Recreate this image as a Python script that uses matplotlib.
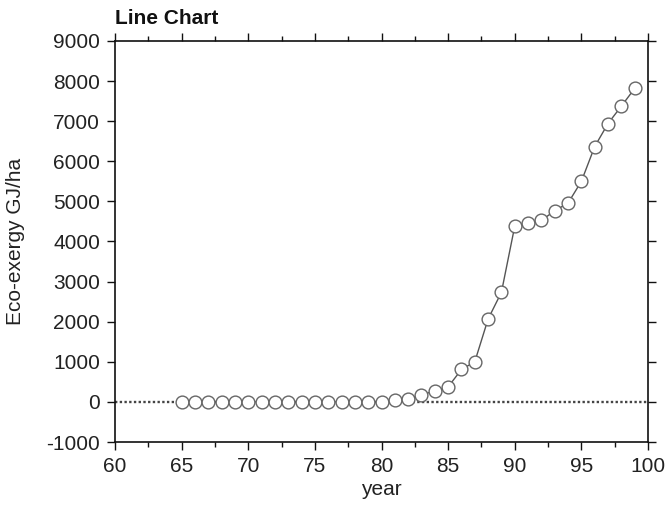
import matplotlib
matplotlib.use("Agg")
import matplotlib.pyplot as plt
from matplotlib.ticker import MultipleLocator

plt.rcParams['font.family'] = ['Liberation Sans', 'DejaVu Sans']
plt.rcParams['axes.unicode_minus'] = False

years = [65, 66, 67, 68, 69, 70, 71, 72, 73, 74, 75, 76, 77, 78, 79,
         80, 81, 82, 83, 84, 85, 86, 87, 88, 89,
         90, 91, 92, 93, 94, 95, 96, 97, 98, 99]
exergy = [0, 0, 0, 0, 0, 0, 0, 0, 0, 0, 0, 0, 0, 0, 0,
          0, 42, 83, 175, 275, 375, 808, 1000, 2067, 2733,
          4383, 4467, 4525, 4767, 4958, 5500, 6367, 6942, 7375, 7817]
baseline_x = [60, 100]
baseline_y = [0, 0]

FS = 15
fig = plt.figure(figsize=(6.67, 5.08), dpi=100)
ax = fig.add_axes([115/667, 1-442/508, (648-115)/667, (442-41)/508])

ax.plot(baseline_x, baseline_y, color='#444444', lw=1.7, linestyle=(0, (1, 1)), zorder=1)
ax.plot(years, exergy, color='#555555', lw=1.0, marker='o', markersize=9.2,
        markerfacecolor='white', markeredgecolor='#666666', markeredgewidth=1.0, zorder=2)

ax.set_xlim(60, 100)
ax.set_ylim(-1000, 9000)
ax.xaxis.set_major_locator(MultipleLocator(5))
ax.xaxis.set_minor_locator(MultipleLocator(2.5))
ax.yaxis.set_major_locator(MultipleLocator(1000))

for s in ax.spines.values():
    s.set_linewidth(1.2)
    s.set_color('#111111')

ax.tick_params(which='both', direction='out', top=True, right=True,
               labeltop=False, labelright=False, width=1.0, color='#111111')
ax.tick_params(which='major', length=5.8, labelsize=FS, labelcolor='#222222', pad=5)
ax.tick_params(which='minor', length=3.6)

ax.set_xlabel('year', fontsize=FS, color='#222222')
ax.xaxis.set_label_coords(0.5, -0.095)
ax.set_ylabel('Eco-exergy GJ/ha', fontsize=FS, color='#222222')
ax.yaxis.set_label_coords(-0.168, 0.5)
ax.set_title('Line Chart', loc='left', fontsize=FS, fontweight='bold', y=1.0, pad=12.2,
             color='#111111')

fig.savefig('out.png', dpi=100)
